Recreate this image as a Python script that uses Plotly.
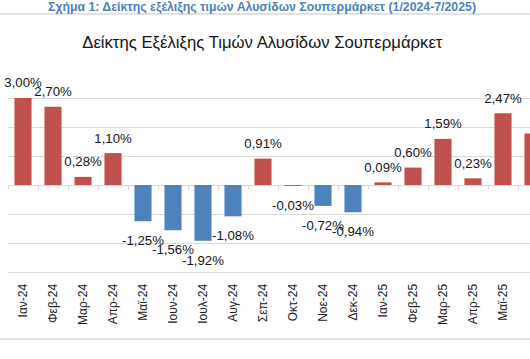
import plotly.graph_objects as go

months = ["Ιαν-24", "Φεβ-24", "Μαρ-24", "Απρ-24", "Μαϊ-24", "Ιουν-24", "Ιουλ-24", "Αυγ-24",
          "Σεπ-24", "Οκτ-24", "Νοε-24", "Δεκ-24", "Ιαν-25", "Φεβ-25", "Μαρ-25", "Απρ-25",
          "Μαϊ-25", "Ιουν-25"]
values = [3.00, 2.70, 0.28, 1.10, -1.25, -1.56, -1.92, -1.08,
          0.91, -0.03, -0.72, -0.94, 0.09, 0.60, 1.59, 0.23,
          2.47, 1.78]

caption = "Σχήμα 1: Δείκτης εξέλιξης τιμών Αλυσίδων Σουπερμάρκετ (1/2024-7/2025)"
title = "Δείκτης Εξέλιξης Τιμών Αλυσίδων Σουπερμάρκετ"

RED = "#C0504D"
BLUE = "#4F81BD"
GRID = "#D9D9D9"
FONT = "Liberation Sans, Arial, sans-serif"

W, H = 530, 359
ML, MR, MT, MB = 8, 0, 69, 87
plot_w = W - ML - MR
plot_h = H - MT - MB
cat_px = 30
x_range = [-0.5, -0.5 + plot_w / cat_px]
y_range = [-3, 4]

labels = [f"{v:.2f}".replace(".", ",") + "%" for v in values]
colors = [RED if v >= 0 else BLUE for v in values]

fig = go.Figure()
fig.add_trace(go.Bar(x=months, y=values, marker=dict(color=colors, line=dict(width=0)),
                     hoverinfo="skip", showlegend=False))
# data labels
fig.add_trace(go.Scatter(
    x=months, y=values, mode="markers+text", text=labels,
    textposition=["top center" if v >= 0 else "bottom center" for v in values],
    marker=dict(size=[10 if v >= 0 else 21 for v in values], color="rgba(0,0,0,0)",
                line=dict(width=0, color="rgba(0,0,0,0)")),
    textfont=dict(family=FONT, size=13.2, color="#141414"),
    cliponaxis=False, hoverinfo="skip", showlegend=False))
# helper for tick marks on zero line
fig.add_trace(go.Bar(x=months, y=values, xaxis="x2",
                     marker=dict(color="rgba(0,0,0,0)", line=dict(width=0)),
                     hoverinfo="skip", showlegend=False))

zero_pos = (0 - y_range[0]) / (y_range[1] - y_range[0])

fig.update_layout(
    template="none",
    width=W, height=H,
    margin=dict(l=ML, r=MR, t=MT, b=MB, autoexpand=False),
    paper_bgcolor="white", plot_bgcolor="white",
    bargap=0.43,
    title=dict(text=title, x=0.495, xanchor="center", y=1 - 42 / H, yanchor="middle",
               yref="container", font=dict(family=FONT, size=16.7, color="#141414")),
    xaxis=dict(type="category", range=x_range, tickangle=-90, automargin=False,
               tickfont=dict(family=FONT, size=12, color="#222222"),
               ticks="outside", ticklen=6, tickcolor="rgba(0,0,0,0)",
               showline=True, linecolor=GRID, linewidth=1, showgrid=False, zeroline=False),
    xaxis2=dict(type="category", range=x_range, overlaying="x", anchor="free",
                position=zero_pos, ticks="outside", tickson="boundaries", ticklen=4,
                tickcolor=GRID, showticklabels=False, showline=False, showgrid=False,
                zeroline=False, side="bottom", automargin=False),
    yaxis=dict(range=y_range, dtick=1, showticklabels=False, gridcolor=GRID, gridwidth=1,
               zeroline=True, zerolinecolor=GRID, zerolinewidth=1, automargin=False,
               ticks=""),
    annotations=[dict(text=caption, xref="paper", yref="paper",
                      x=(262 - ML) / plot_w, y=(H - MB - 7) / plot_h,
                      xanchor="center", yanchor="middle", showarrow=False,
                      font=dict(family=FONT, size=12.3, color="#4F81BD", weight="bold"))],
    shapes=[
        dict(type="line", xref="paper", yref="paper", x0=-ML / plot_w, x1=1,
             y0=(H - MB - 14) / plot_h, y1=(H - MB - 14) / plot_h,
             line=dict(color=GRID, width=1.5)),
        dict(type="line", xref="paper", yref="paper", x0=-ML / plot_w, x1=1,
             y0=(H - MB - 339) / plot_h, y1=(H - MB - 339) / plot_h,
             line=dict(color=GRID, width=1.5)),
    ],
)

fig.write_html("out.html", config={"displayModeBar": False},
               post_script="document.body.style.margin='0';document.body.style.overflow='hidden';")
